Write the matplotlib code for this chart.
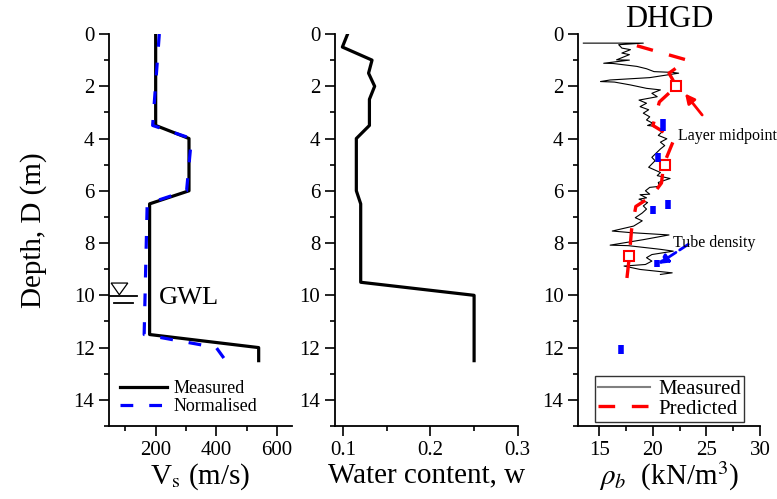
import numpy as np
import matplotlib
matplotlib.use("Agg")
from matplotlib import pyplot as plt
from matplotlib.ticker import MultipleLocator

plt.rcParams['font.family'] = ['Liberation Serif', 'DejaVu Serif']
plt.rcParams['mathtext.fontset'] = 'stix'

# shear wave velocity profile
vs_depth = [0, 3.5, 4, 6, 6.5, 11.5, 12, 12.5]
vs_measured = [200, 200, 310, 310, 180, 180, 540, 540]
vs_norm_depth = [0, 3.5, 4, 6, 6.5, 11.5, 12, 12.4]
vs_normalised = [212, 190, 318, 302, 172, 162, 400, 425]
gwl_depth = 10.0

# water content profile
w_depth = [0, 0.5, 1.0, 1.5, 2.0, 2.5, 3.5, 4.0, 6.0, 6.5, 9.5, 10.0, 12.5]
w_value = [0.105, 0.099, 0.133, 0.129, 0.136, 0.130, 0.130, 0.115, 0.115, 0.120, 0.120, 0.250, 0.250]

# bulk unit weight, measured (DHGD)
rho_meas = [13.5, 19.1, 16.8, 17.1, 17.9, 17.1, 17.8, 16.6, 17.8, 15.4, 16.3, 18.5, 19.4, 20.1,
            21.8, 22.4, 19.7, 16.0, 15.1, 16.4, 17.9, 19.4, 20.7, 19.9, 20.4, 18.7, 19.4, 18.8,
            19.6, 19.1, 19.7, 19.4, 20.0, 19.5, 19.9, 21.0, 20.5, 21.3, 20.7, 21.1, 20.7, 19.9,
            20.2, 19.6, 20.7, 20.4, 21.6, 20.5, 20.6, 19.7, 19.3, 19.7, 18.8, 19.4, 18.7, 19.5,
            19.1, 19.4, 19.0, 18.35, 19.0, 18.2, 16.2, 17.9, 21.5, 19.1, 16.0, 17.7, 20.7, 21.9,
            19.9, 19.4, 19.9, 19.3, 17.3, 18.8, 21.8, 20.7]
rho_meas_depth = [0.35, 0.35, 0.41, 0.54, 0.60, 0.73, 0.79, 0.99, 1.0, 1.12, 1.13, 1.24, 1.33, 1.44,
                  1.47, 1.50, 1.67, 1.76, 1.82, 1.84, 1.95, 2.08, 2.14, 2.27, 2.40, 2.53, 2.65, 2.78,
                  2.90, 3.03, 3.17, 3.29, 3.42, 3.50, 3.52, 3.69, 3.88, 4.01, 4.14, 4.27, 4.40, 4.72,
                  4.85, 5.10, 5.30, 5.42, 5.53, 5.68, 5.83, 5.87, 6.00, 6.13, 6.15, 6.27, 6.32, 6.45,
                  6.58, 6.70, 6.85, 7.03, 7.15, 7.35, 7.54, 7.60, 7.69, 7.87, 8.08, 8.10, 8.24, 8.31,
                  8.44, 8.56, 8.69, 8.82, 8.88, 9.01, 9.14, 9.20]

rho_pred = [18.5, 23.2, 21.5, 22.2, 20.6, 20.0, 22.0, 21.5, 21.0, 20.8, 19.9, 18.4, 18.0, 17.8, 17.5]
rho_pred_depth = [0.45, 1.0, 1.5, 2.0, 2.6, 3.5, 4.0, 4.5, 5.0, 5.7, 6.2, 6.6, 7.5, 8.5, 9.6]

mid_rho = [22.2, 21.1, 17.8]
mid_depth = [2.0, 5.0, 8.5]

tube_rho = [20.9, 20.5, 21.4, 20.0, 20.4, 17.0]
tube_top = [3.25, 4.55, 6.35, 6.6, 8.65, 11.9]
tube_bot = [3.7, 4.9, 6.7, 6.9, 8.9, 12.25]

fig = plt.figure(figsize=(7.77, 4.99), dpi=100)
ax1 = fig.add_axes([0.1403, 0.1463, 0.2355, 0.7856])
ax2 = fig.add_axes([0.4311, 0.1463, 0.2352, 0.7856])
ax3 = fig.add_axes([0.7439, 0.1463, 0.2342, 0.7856])

for ax in (ax1, ax2, ax3):
    ax.set_ylim(15, 0)
    ax.yaxis.set_major_locator(MultipleLocator(2))
    ax.yaxis.set_minor_locator(MultipleLocator(1))
    for s in ('top', 'right'):
        ax.spines[s].set_visible(False)
    for s in ('left', 'bottom'):
        ax.spines[s].set_linewidth(1.3)
    ax.tick_params(which='major', direction='out', length=7, width=1.2, labelsize=15)
    ax.tick_params(which='minor', direction='out', length=3.5, width=1.2)

# panel 1: Vs
ax1.plot(vs_measured, vs_depth, 'k-', lw=2.3, label='Measured')
ax1.plot(vs_normalised, vs_norm_depth, color='blue', ls=(0, (4, 5)), lw=2.3, label='Normalised')
ax1.set_xlim(46, 650)
ax1.xaxis.set_major_locator(MultipleLocator(200))
ax1.xaxis.set_minor_locator(MultipleLocator(100))
ax1.set_xlabel(r'V$_\mathrm{s}$ (m/s)', fontsize=21, labelpad=1)
ax1.set_ylabel('Depth, D (m)', fontsize=21, labelpad=19)
ax1.fill([53, 108, 80], [gwl_depth - 0.47, gwl_depth - 0.47, gwl_depth - 0.02],
         facecolor='white', edgecolor='black', lw=0.9)
ax1.plot([50, 138], [gwl_depth + 0.03, gwl_depth + 0.03], 'k-', lw=1.3)
ax1.plot([63, 125], [gwl_depth + 0.3, gwl_depth + 0.3], 'k-', lw=1.3)
ax1.text(211, gwl_depth + 0.1, 'GWL', fontsize=19, va='center', ha='left')
ax1.legend(loc='lower left', bbox_to_anchor=(0.0, 0.0), frameon=False, fontsize=13,
           handlelength=2.6, handletextpad=0.4, labelspacing=0.05, borderaxespad=0.2)

# panel 2: water content
ax2.plot(w_value, w_depth, 'k-', lw=2.3)
ax2.set_xlim(0.0905, 0.3)
ax2.xaxis.set_major_locator(MultipleLocator(0.1))
ax2.xaxis.set_minor_locator(MultipleLocator(0.05))
ax2.xaxis.set_major_formatter(plt.FuncFormatter(lambda v, p: '%.1f' % v))
ax2.set_xlabel('Water content, w', fontsize=21, labelpad=2)

# panel 3: unit weight
ax3.plot(rho_meas, rho_meas_depth, color='black', lw=0.8, label='Measured')
ax3.plot(rho_pred, rho_pred_depth, color='red', ls=(0, (5, 5)), lw=2.4, label='Predicted')
ax3.plot(mid_rho, mid_depth, 's', ms=7, mfc='white', mec='red', mew=1.5)
ax3.vlines(tube_rho, tube_top, tube_bot, colors='blue', lw=4)
ax3.annotate('', xy=(23.0, 2.28), xytext=(24.6, 3.1),
             arrowprops=dict(arrowstyle='-|>', color='red', lw=2, mutation_scale=14,
                             shrinkA=0, shrinkB=0))
ax3.text(22.3, 3.9, 'Layer midpoint', fontsize=11.5, va='center', ha='left')
ax3.annotate('', xy=(20.5, 8.8), xytext=(23.3, 8.05),
             arrowprops=dict(arrowstyle='-|>', color='blue', lw=2, ls='--', mutation_scale=14,
                             shrinkA=0, shrinkB=0))
ax3.text(21.9, 8.0, 'Tube density', fontsize=11.5, va='center', ha='left')
ax3.set_xlim(13, 30)
ax3.xaxis.set_major_locator(MultipleLocator(5))
ax3.xaxis.set_minor_locator(MultipleLocator(2.5))
ax3.set_xlabel(r'$\rho_b$  (kN/m$^3$)', fontsize=21, labelpad=0)
ax3.set_title('DHGD', fontsize=22, pad=2)
leg = ax3.legend(loc='lower left', bbox_to_anchor=(0.07, 0.0), fontsize=15, fancybox=False,
                 edgecolor='black', handlelength=2.5, handletextpad=0.4, labelspacing=0.0,
                 borderpad=0.15, borderaxespad=0.2)
leg.get_frame().set_linewidth(1.0)
leg.get_lines()[0].set_color('gray')
leg.get_lines()[0].set_linewidth(1.5)

fig.savefig('out.png', dpi=100)
